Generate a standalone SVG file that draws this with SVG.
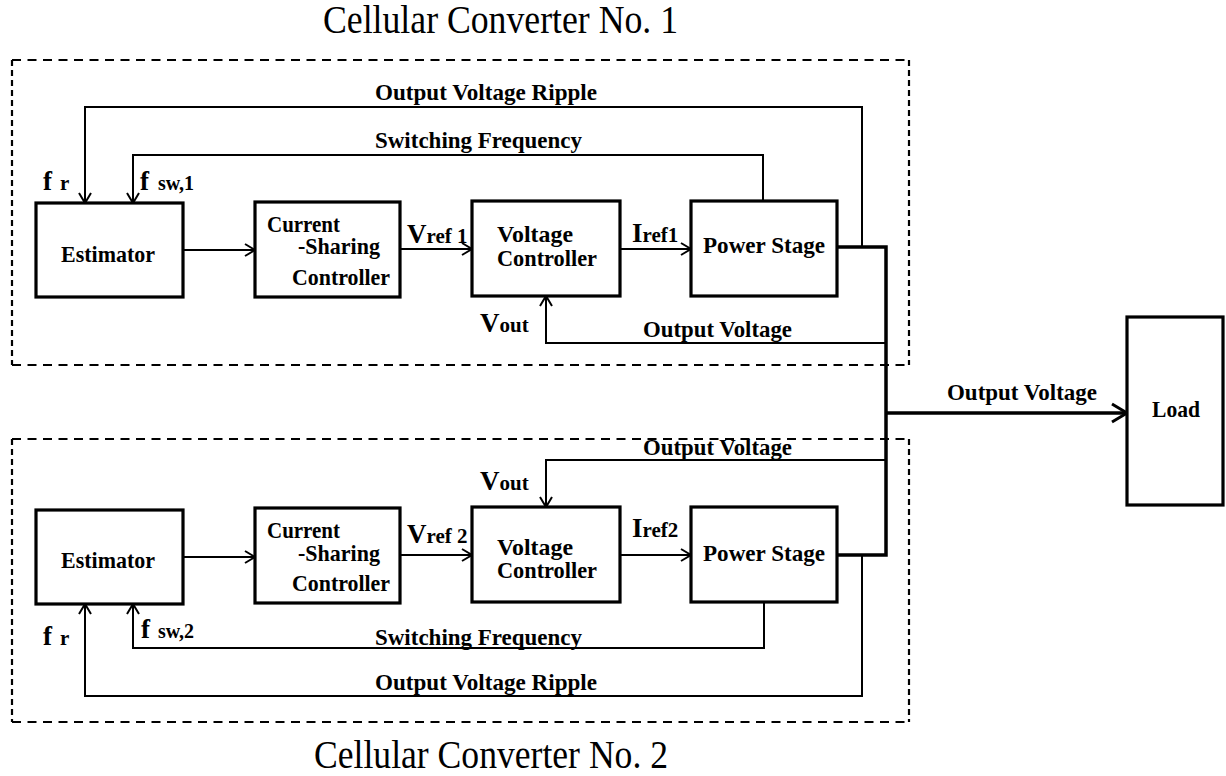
<svg xmlns="http://www.w3.org/2000/svg" width="1226" height="776" viewBox="0 0 1226 776">
<style>
text{font-family:"Liberation Serif","Times New Roman",serif;fill:#000;}
.t{font-size:39px;}
.l{font-size:23px;font-weight:bold;}
.b{font-size:21px;font-weight:bold;}
.c{font-size:23px;font-weight:bold;}
.big{font-size:27px;font-weight:bold;}
.sm{font-size:20px;font-weight:bold;}
.box{fill:#fff;stroke:#000;stroke-width:3.2;}
.w{fill:none;stroke:#000;stroke-width:2;}
.bus{fill:none;stroke:#000;stroke-width:3.5;}
.dh{fill:none;stroke:#000;stroke-width:2.2;stroke-dasharray:9 6.5;}
.dv{fill:none;stroke:#000;stroke-width:2.2;stroke-dasharray:6 4;}
</style>
<defs>
<marker id="ar" markerUnits="userSpaceOnUse" markerWidth="14" markerHeight="16" viewBox="-12 -8 14 16" refX="0" refY="0" orient="auto">
<path d="M-10,-6 L0,0 L-10,6" fill="none" stroke="#000" stroke-width="2"/>
</marker>
<marker id="arB" markerUnits="userSpaceOnUse" markerWidth="20" markerHeight="22" viewBox="-17 -11 19 22" refX="0" refY="0" orient="auto">
<path d="M-15,-9 L0,0 L-15,9" fill="none" stroke="#000" stroke-width="3"/>
</marker>
</defs>

<g id="frames">
<line class="dh" x1="12" y1="60" x2="909" y2="60"/>
<line class="dh" x1="12" y1="365" x2="909" y2="365"/>
<line class="dv" x1="12" y1="60" x2="12" y2="365"/>
<line class="dv" x1="909" y1="60" x2="909" y2="365"/>
<line class="dh" x1="12" y1="439" x2="909" y2="439"/>
<line class="dh" x1="12" y1="722" x2="909" y2="722"/>
<line class="dv" x1="12" y1="439" x2="12" y2="722"/>
<line class="dv" x1="909" y1="439" x2="909" y2="722"/>
<text class="t" x="323" y="33" textLength="355" lengthAdjust="spacingAndGlyphs">Cellular Converter No. 1</text>
<text class="t" x="314" y="768" textLength="354" lengthAdjust="spacingAndGlyphs">Cellular Converter No. 2</text>
</g>

<g id="connectors">
<line class="w" x1="183" y1="250" x2="255" y2="250" marker-end="url(#ar)"/>
<line class="w" x1="400" y1="249" x2="472" y2="249" marker-end="url(#ar)"/>
<line class="w" x1="620" y1="249" x2="691" y2="249" marker-end="url(#ar)"/>
<polyline class="w" points="862,247 862,107 85,107 85,203" marker-end="url(#ar)"/>
<polyline class="w" points="763,201 763,155 133,155 133,203" marker-end="url(#ar)"/>
<polyline class="w" points="886,343 546,343 546,296" marker-end="url(#ar)"/>

<line class="w" x1="183" y1="557" x2="255" y2="557" marker-end="url(#ar)"/>
<line class="w" x1="400" y1="555" x2="472" y2="555" marker-end="url(#ar)"/>
<line class="w" x1="620" y1="555" x2="691" y2="555" marker-end="url(#ar)"/>
<polyline class="w" points="862,555 862,696 85,696 85,604" marker-end="url(#ar)"/>
<polyline class="w" points="764,602 764,648 133,648 133,604" marker-end="url(#ar)"/>
<polyline class="w" points="886,460 546,460 546,507" marker-end="url(#ar)"/>

<polyline class="bus" points="837,247 886,247 886,555 837,555"/>
<line class="bus" x1="886" y1="413" x2="1127" y2="413" stroke-width="3" marker-end="url(#arB)"/>
</g>

<g id="labels">
<text class="l" x="375" y="100" textLength="222" lengthAdjust="spacingAndGlyphs">Output Voltage Ripple</text>
<text class="l" x="375" y="148" textLength="207" lengthAdjust="spacingAndGlyphs">Switching Frequency</text>
<text x="43" y="190"><tspan class="big">f</tspan><tspan class="b" x="60">r</tspan></text>
<text x="140" y="190"><tspan class="big">f</tspan><tspan class="sm" x="158">sw,1</tspan></text>
<text x="407" y="243"><tspan class="big">V</tspan><tspan class="b">ref 1</tspan></text>
<text x="632" y="242"><tspan class="big">I</tspan><tspan class="b">ref1</tspan></text>
<text x="480" y="332"><tspan class="big">V</tspan><tspan class="b">out</tspan></text>
<text class="l" x="643" y="337" textLength="149" lengthAdjust="spacingAndGlyphs">Output Voltage</text>

<text class="l" x="375" y="690" textLength="222" lengthAdjust="spacingAndGlyphs">Output Voltage Ripple</text>
<text class="l" x="375" y="645" textLength="207" lengthAdjust="spacingAndGlyphs">Switching Frequency</text>
<text x="43" y="645"><tspan class="big">f</tspan><tspan class="b" x="60">r</tspan></text>
<text x="141" y="638"><tspan class="big">f</tspan><tspan class="sm" x="158">sw,2</tspan></text>
<text x="407" y="543"><tspan class="big">V</tspan><tspan class="b">ref 2</tspan></text>
<text x="632" y="537"><tspan class="big">I</tspan><tspan class="b">ref2</tspan></text>
<text x="480" y="490"><tspan class="big">V</tspan><tspan class="b">out</tspan></text>
<text class="l" x="643" y="455" textLength="149" lengthAdjust="spacingAndGlyphs">Output Voltage</text>

<text class="l" x="947" y="400" textLength="150" lengthAdjust="spacingAndGlyphs">Output Voltage</text>
</g>

<g id="estimator1">
<rect class="box" x="36" y="203" width="147" height="94"/>
<text class="c" x="61" y="262" textLength="94" lengthAdjust="spacingAndGlyphs">Estimator</text>
</g>
<g id="csc1">
<rect class="box" x="255" y="202" width="145" height="95"/>
<text class="c" x="267" y="232" textLength="73" lengthAdjust="spacingAndGlyphs">Current</text>
<text class="c" x="298" y="254" textLength="82" lengthAdjust="spacingAndGlyphs">-Sharing</text>
<text class="c" x="292" y="285" textLength="98" lengthAdjust="spacingAndGlyphs">Controller</text>
</g>
<g id="vc1">
<rect class="box" x="472" y="201" width="148" height="95"/>
<text class="c" x="497" y="242" textLength="76" lengthAdjust="spacingAndGlyphs">Voltage</text>
<text class="c" x="497" y="266" textLength="100" lengthAdjust="spacingAndGlyphs">Controller</text>
</g>
<g id="ps1">
<rect class="box" x="691" y="201" width="146" height="95"/>
<text class="c" x="703" y="253" textLength="122" lengthAdjust="spacingAndGlyphs">Power Stage</text>
</g>

<g id="estimator2">
<rect class="box" x="36" y="510" width="147" height="94"/>
<text class="c" x="61" y="568" textLength="94" lengthAdjust="spacingAndGlyphs">Estimator</text>
</g>
<g id="csc2">
<rect class="box" x="255" y="508" width="145" height="95"/>
<text class="c" x="267" y="538" textLength="73" lengthAdjust="spacingAndGlyphs">Current</text>
<text class="c" x="298" y="561" textLength="82" lengthAdjust="spacingAndGlyphs">-Sharing</text>
<text class="c" x="292" y="591" textLength="98" lengthAdjust="spacingAndGlyphs">Controller</text>
</g>
<g id="vc2">
<rect class="box" x="472" y="507" width="148" height="95"/>
<text class="c" x="497" y="555" textLength="76" lengthAdjust="spacingAndGlyphs">Voltage</text>
<text class="c" x="497" y="578" textLength="100" lengthAdjust="spacingAndGlyphs">Controller</text>
</g>
<g id="ps2">
<rect class="box" x="691" y="507" width="146" height="95"/>
<text class="c" x="703" y="561" textLength="122" lengthAdjust="spacingAndGlyphs">Power Stage</text>
</g>

<g id="load">
<rect class="box" x="1127" y="317" width="96" height="188"/>
<text class="c" x="1152" y="417" textLength="48" lengthAdjust="spacingAndGlyphs">Load</text>
</g>
</svg>
